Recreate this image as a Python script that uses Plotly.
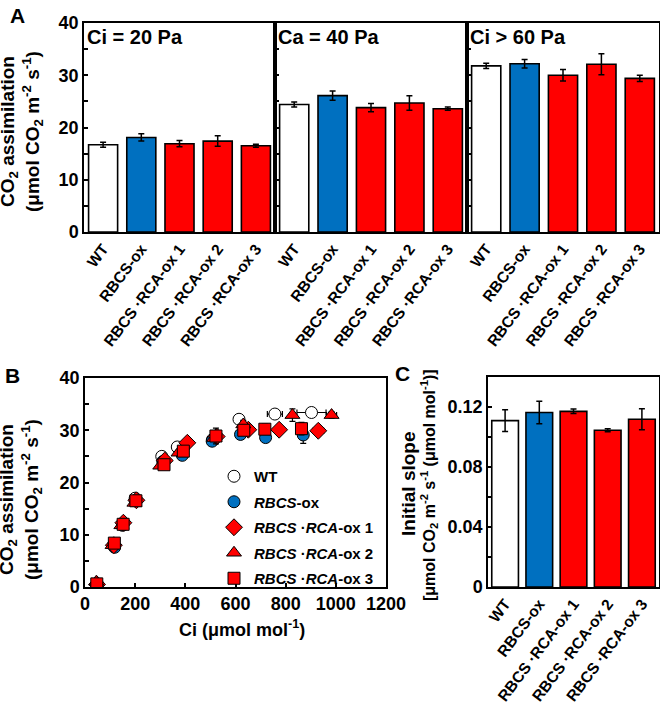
import plotly.graph_objects as go

# ---------------- data ----------------
categories = ["WT", "RBCS-ox", "RBCS ·RCA-ox 1", "RBCS ·RCA-ox 2", "RBCS ·RCA-ox 3"]
bar_colors = ["#FFFFFF", "#0070C0", "#FF0000", "#FF0000", "#FF0000"]

panelA_titles = ["Ci = 20 Pa", "Ca = 40 Pa", "Ci > 60 Pa"]
a_ci20 = [16.7, 18.1, 16.9, 17.4, 16.5]
a_ci20_err = [0.5, 0.7, 0.6, 1.0, 0.3]
a_ca40 = [24.4, 26.1, 23.8, 24.7, 23.6]
a_ca40_err = [0.5, 0.9, 0.8, 1.4, 0.3]
a_ci60 = [31.8, 32.2, 30.0, 32.1, 29.4]
a_ci60_err = [0.5, 0.8, 1.1, 2.0, 0.6]

c_slope = [0.1109, 0.1163, 0.1171, 0.1045, 0.1118]
c_slope_err = [0.0073, 0.0075, 0.0015, 0.0010, 0.0070]

wt_ci = [50, 113, 150, 200, 306, 368, 508, 614, 757, 903]
wt_a = [0.5, 8.0, 12.0, 17.0, 25.0, 26.8, 28.2, 32.1, 33.1, 33.4]
wt_aerr = [0.4, 0.5, 0.5, 0.5, 0.5, 0.5, 0.6, 0.6, 0.5, 0.5]
wt_cierr = [3, 4, 4, 4, 6, 8, 10, 10, 30, 58]

ox_ci = [48, 118, 150, 200, 310, 388, 507, 620, 720, 870]
ox_a = [0.5, 7.6, 11.8, 16.5, 24.0, 25.2, 27.9, 29.2, 28.6, 29.1]
ox_aerr = [0.4, 0.5, 0.5, 0.5, 0.5, 0.5, 0.8, 0.8, 0.9, 1.6]
ox_cierr = [3, 4, 4, 4, 5, 6, 8, 8, 10, 12]

r1_ci = [48, 115, 153, 205, 318, 408, 525, 651, 774, 930]
r1_a = [0.5, 8.0, 12.3, 16.6, 24.2, 27.6, 28.8, 30.1, 30.1, 29.9]
r1_aerr = [0.4, 0.5, 0.5, 0.5, 0.5, 0.5, 0.6, 0.5, 0.5, 0.5]
r1_cierr = [3, 4, 4, 4, 6, 18, 8, 8, 10, 22]

r2_ci = [45, 110, 145, 197, 300, 373, 515, 631, 827, 983]
r2_a = [1.0, 8.0, 11.8, 16.1, 23.2, 25.7, 28.5, 31.1, 32.9, 32.9]
r2_aerr = [0.5, 0.5, 0.5, 0.5, 0.5, 0.5, 0.6, 0.8, 1.2, 0.6]
r2_cierr = [3, 4, 4, 4, 6, 8, 8, 8, 10, 20]

r3_ci = [47, 117, 152, 203, 315, 392, 522, 633, 717, 863]
r3_a = [0.6, 8.4, 12.0, 16.5, 23.4, 26.0, 28.9, 30.0, 30.2, 30.3]
r3_aerr = [0.4, 0.5, 0.5, 0.5, 0.5, 0.5, 1.5, 0.7, 1.0, 1.2]
r3_cierr = [3, 4, 4, 4, 6, 8, 8, 8, 8, 10]

legend_names = ["WT", "<i>RBCS</i>-ox", "<i>RBCS</i> ·<i>RCA</i>-ox 1",
                "<i>RBCS</i> ·<i>RCA</i>-ox 2", "<i>RBCS</i> ·<i>RCA</i>-ox 3"]

# ---------------- layout helpers ----------------
W, H = 660, 702
FONT = "Liberation Sans, Arial, Helvetica, sans-serif"

def px_x(p):
    return p / W

def px_y(p):
    return 1 - p / H

fig = go.Figure()

errstyle = dict(type="data", color="black", thickness=1.5, width=3, visible=True)

# Panel A bars
for i, (vals, errs) in enumerate([(a_ci20, a_ci20_err), (a_ca40, a_ca40_err), (a_ci60, a_ci60_err)]):
    fig.add_trace(go.Bar(
        x=categories, y=vals, width=0.76,
        marker=dict(color=bar_colors, line=dict(color="black", width=1.6)),
        error_y=dict(array=errs, **errstyle),
        xaxis=f"x{i+1 if i else ''}", yaxis=f"y{i+1 if i else ''}",
        showlegend=False,
    ))

# Panel B scatter
symbols = ["circle", "circle", "diamond", "triangle-up", "square"]
fills = ["#FFFFFF", "#0070C0", "#FF0000", "#FF0000", "#FF0000"]
sizes = [12, 12, 13, 13, 12]
series = [(wt_ci, wt_a, wt_aerr, wt_cierr), (ox_ci, ox_a, ox_aerr, ox_cierr),
          (r1_ci, r1_a, r1_aerr, r1_cierr), (r2_ci, r2_a, r2_aerr, r2_cierr),
          (r3_ci, r3_a, r3_aerr, r3_cierr)]
for k, (xs, ys, ye, xe) in enumerate(series):
    mk = dict(symbol=symbols[k], size=sizes[k], color=fills[k],
              line=dict(color="black", width=1))
    fig.add_trace(go.Scatter(
        x=xs, y=ys, mode="markers", marker=mk, showlegend=False,
        error_y=dict(array=ye, color="black", thickness=1.2, width=3),
        error_x=dict(array=xe, color="black", thickness=1.2, width=3),
        xaxis="x4", yaxis="y4",
    ))
    # legend entry (marker only, no error bars)
    fig.add_trace(go.Scatter(
        x=[None], y=[None], mode="markers", marker=mk, name=legend_names[k],
        xaxis="x4", yaxis="y4", legendgroup=f"g{k}", showlegend=True,
    ))

# Panel C bars
fig.add_trace(go.Bar(
    x=categories, y=c_slope, width=0.78,
    marker=dict(color=bar_colors, line=dict(color="black", width=1.6)),
    error_y=dict(array=c_slope_err, **errstyle),
    xaxis="x5", yaxis="y5", showlegend=False,
))

axis_common = dict(showline=True, linecolor="black", linewidth=1.5, mirror=True,
                   showgrid=False, zeroline=False, automargin=False)
tickfont = dict(family=FONT, size=18, color="black", weight="bold")
cat_tickfont = dict(family=FONT, size=15.5, color="black", weight="bold")
TICKANGLE = -53

A_top, A_bot = 23, 232
A_x = [(84, 275), (275, 467), (467, 659)]
layout = dict(
    width=W, height=H, margin=dict(l=0, r=0, t=0, b=0, pad=0, autoexpand=False),
    paper_bgcolor="white", plot_bgcolor="white",
    font=dict(family=FONT, color="black"),
)
for i, (l, r) in enumerate(A_x):
    sfx = str(i + 1) if i else ""
    layout[f"xaxis{sfx}"] = dict(
        domain=[px_x(l), px_x(r)], anchor=f"y{sfx}", type="category",
        range=[-0.5, 4.5], tickangle=TICKANGLE, tickfont=cat_tickfont, ticks="", **axis_common)
    layout[f"yaxis{sfx}"] = dict(
        domain=[px_y(A_bot), px_y(A_top)], anchor=f"x{sfx}", range=[0, 40],
        tickvals=[0, 10, 20, 30, 40], ticks="inside", ticklen=4, tickwidth=1.5,
        showticklabels=(i == 0), tickfont=tickfont,
        minor=dict(ticks="inside", dtick=5, ticklen=4, tickwidth=1.5, tickcolor="black"),
        tickcolor="black", **axis_common)

B_top, B_bot = 378, 587
layout["xaxis4"] = dict(domain=[px_x(85), px_x(386)], anchor="y4", range=[0, 1200],
                        tickvals=[0, 200, 400, 600, 800, 1000, 1200], ticks="inside",
                        ticklen=4, tickwidth=1.5, tickcolor="black", tickfont=tickfont,
                        **axis_common)
layout["yaxis4"] = dict(domain=[px_y(B_bot), px_y(B_top)], anchor="x4", range=[0, 40],
                        tickvals=[0, 10, 20, 30, 40], ticks="inside", ticklen=4,
                        tickwidth=1.5, tickcolor="black", tickfont=tickfont,
                        minor=dict(ticks="inside", dtick=5, ticklen=4, tickwidth=1.5, tickcolor="black"),
                        **axis_common)
layout["xaxis5"] = dict(domain=[px_x(488), px_x(659)], anchor="y5", type="category",
                        range=[-0.5, 4.5], tickangle=TICKANGLE, tickfont=cat_tickfont, ticks="",
                        **axis_common)
layout["yaxis5"] = dict(domain=[px_y(B_bot), px_y(377)], anchor="x5", range=[0, 0.14],
                        tickvals=[0, 0.04, 0.08, 0.12], ticktext=["0", "0.04", "0.08", "0.12"],
                        ticks="inside", ticklen=4, tickwidth=1.5, tickcolor="black",
                        tickfont=tickfont,
                        minor=dict(ticks="inside", dtick=0.02, ticklen=4, tickwidth=1.5, tickcolor="black"),
                        **axis_common)

layout["legend"] = dict(x=px_x(214), y=px_y(460), xanchor="left", yanchor="top",
                        bgcolor="rgba(0,0,0,0)", tracegroupgap=3,
                        font=dict(family=FONT, size=15, color="black", weight="bold"))
fig.update_layout(**layout)

def ann(text, x, y, size, angle=0, xanchor="center", yanchor="middle"):
    fig.add_annotation(text=text, x=px_x(x), y=px_y(y), xref="paper", yref="paper",
                       showarrow=False, textangle=angle, xanchor=xanchor, yanchor=yanchor,
                       font=dict(family=FONT, size=size, color="black", weight="bold"))

# Panel letters
ann("A", 8, 2, 21, xanchor="left", yanchor="top")
ann("B", 3, 362, 21, xanchor="left", yanchor="top")
ann("C", 393, 360, 21, xanchor="left", yanchor="top")

# Sub-panel titles
for (l, r), t in zip(A_x, panelA_titles):
    ann(t, l + 1, A_top + 1, 20, xanchor="left", yanchor="top")

ytitle = "CO<sub>2</sub> assimilation<br>(μmol CO<sub>2</sub> m<sup>-2</sup> s<sup>-1</sup>)"
ann(ytitle, 21, 132, 19, angle=-90)
ann(ytitle, 20, 500, 19, angle=-90)
ann("Ci (μmol mol<sup>-1</sup>)", 242, 628, 18)
ann("Initial slope", 408, 484, 19, angle=-90)
ann("[μmol CO<sub>2</sub> m<sup>-2</sup> s<sup>-1</sup> (μmol mol<sup>-1</sup>)]", 429, 485, 16, angle=-90)

fig.write_html("out.html", config={"displayModeBar": False},
               post_script="document.body.style.margin='0';document.body.style.overflow='hidden';")
